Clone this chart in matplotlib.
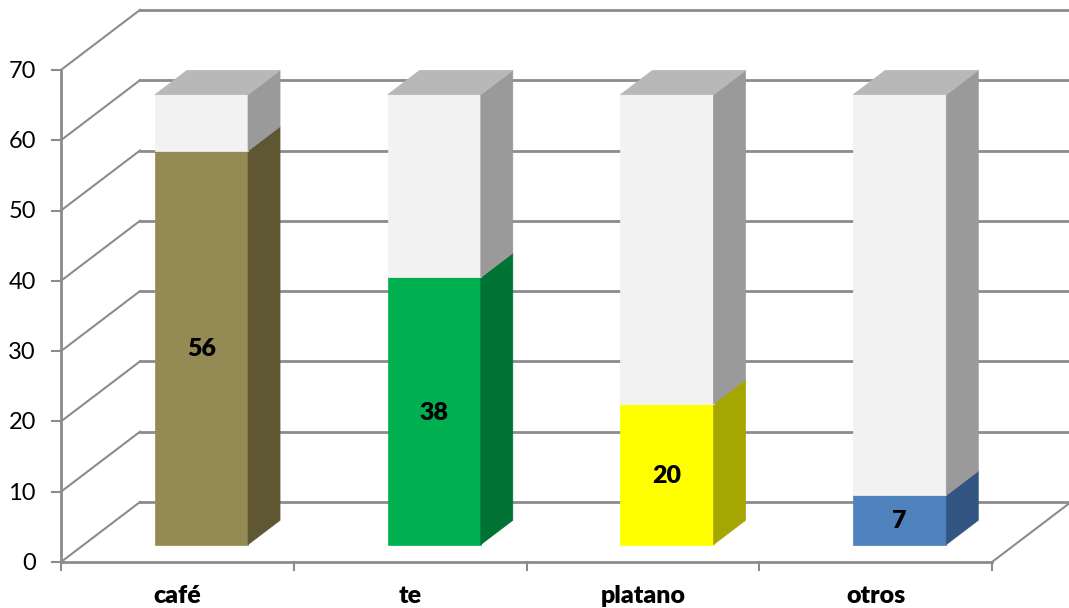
import matplotlib
matplotlib.use('Agg')
import matplotlib.pyplot as plt

categories = ['café', 'te', 'platano', 'otros']
values = [56, 38, 20, 7]
bar_total = 64
y_ticks = [0, 10, 20, 30, 40, 50, 60, 70]
front_colors = ['#948A54', '#00B050', '#FFFF00', '#4F81BD']
side_colors = ['#5F5733', '#007233', '#A6A600', '#325681']

GRID = '#8C8C8C'
REST_FRONT = '#F2F2F2'
REST_SIDE = '#9A9A9A'
REST_TOP = '#B8B8B8'

# size of the 3d box, in data units (1 category wide, 1 value unit high)
PX_X = 232.75
PX_Y = 7.03
DEPTH_X = 79 / PX_X
DEPTH_Y = 60 / PX_Y
BAR_W = 0.4
BAR_D = 0.405
Z0 = 0.29


def proj(x, y, z):
    # oblique projection of the 3d chart on the plane of the axes
    return x + z * DEPTH_X, y + z * DEPTH_Y


def box_face(ax, pts, color, zorder=3):
    xs, ys = zip(*[proj(*p) for p in pts])
    ax.fill(xs, ys, color=color, lw=0.5, zorder=zorder)


def draw_box(ax, x0, y0, y1, front, side):
    x1 = x0 + BAR_W
    z1 = Z0 + BAR_D
    box_face(ax, [(x0, y0, Z0), (x1, y0, Z0), (x1, y1, Z0), (x0, y1, Z0)], front)
    box_face(ax, [(x1, y0, Z0), (x1, y0, z1), (x1, y1, z1), (x1, y1, Z0)], side)


fig = plt.figure(figsize=(10.69, 6.08), dpi=100)
plt.rcParams['font.family'] = ['Lato', 'DejaVu Sans']
ax = fig.add_axes([0, 0, 1, 1])
ax.set_xlim(-61 / PX_X, (1069 - 61) / PX_X)
ax.set_ylim((562 - 608) / PX_Y, 562 / PX_Y)
ax.axis('off')

n = len(categories)

# walls: gridlines on the side wall and the back wall
for t in y_ticks:
    x_a, y_a = proj(0, t, 0)
    x_b, y_b = proj(0, t, 1)
    x_c, y_c = proj(n, t, 1)
    ax.plot([x_a, x_b], [y_a, y_b], color=GRID, lw=1.5, zorder=1)
    ax.plot([x_b, x_c], [y_b, y_c], color=GRID, lw=2, zorder=1)

# right edge of the floor
x_a, y_a = proj(n, 0, 0)
x_b, y_b = proj(n, 0, 1)
ax.plot([x_a, x_b], [y_a, y_b], color=GRID, lw=1.5, zorder=1)

# axes
ax.plot([0, 0], [0, y_ticks[-1]], color=GRID, lw=2, zorder=2)
ax.plot([0, n], [0, 0], color=GRID, lw=2, zorder=2)
for t in y_ticks:
    ax.plot([-9 / PX_X, 0], [t, t], color=GRID, lw=1.5, zorder=2)
    ax.text(-25 / PX_X, t - 1.5 / PX_Y, str(t), ha='right', va='center', fontsize=17, color='black')
for i in range(n + 1):
    ax.plot([i, i], [0, -8 / PX_Y], color=GRID, lw=1.5, zorder=2)

# stacked bars
for i, cat in enumerate(categories):
    x0 = i + (1 - BAR_W) / 2 + 1.2 / PX_X
    x1 = x0 + BAR_W
    z1 = Z0 + BAR_D
    draw_box(ax, x0, 0, values[i], front_colors[i], side_colors[i])
    draw_box(ax, x0, values[i], bar_total, REST_FRONT, REST_SIDE)
    box_face(ax, [(x0, bar_total, Z0), (x1, bar_total, Z0), (x1, bar_total, z1), (x0, bar_total, z1)], REST_TOP)

    lx, ly = proj(x0 + BAR_W / 2, values[i] / 2, Z0)
    ax.text(lx, ly - 1.5 / PX_Y, str(values[i]), ha='center', va='center', fontsize=18, fontweight='heavy', color='black', zorder=4)
    ax.text(i + 0.5, -34 / PX_Y, cat, ha='center', va='center', fontsize=18, fontweight='heavy', color='black')

fig.savefig('out.png', dpi=100)
